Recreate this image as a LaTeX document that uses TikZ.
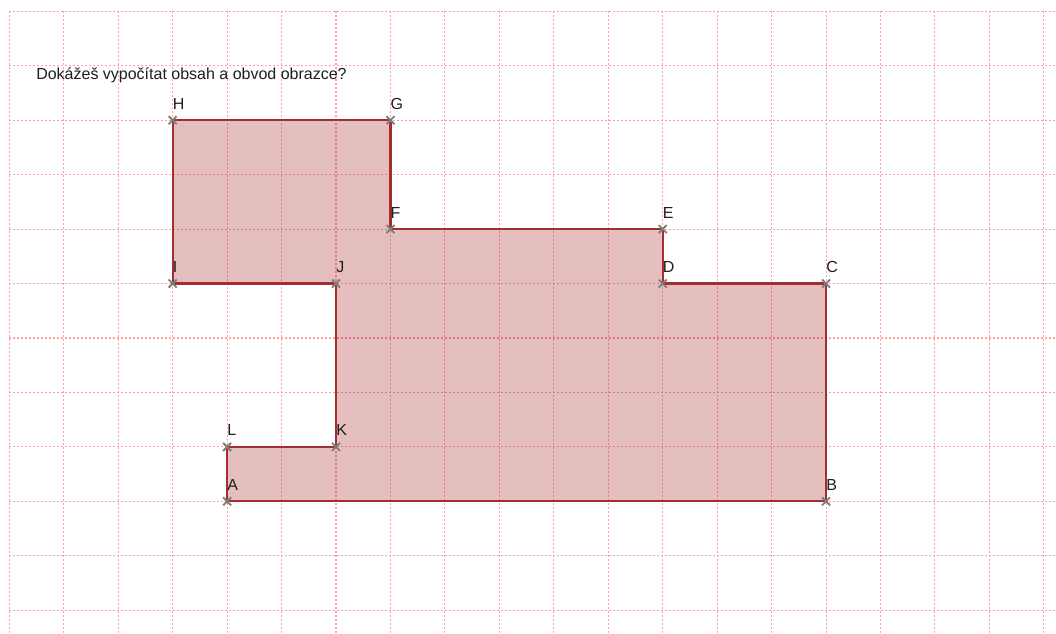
\documentclass[tikz,border=0pt]{standalone}
\usepackage{fontspec}
\setmainfont{Liberation Sans}
\usetikzlibrary{calc}
\definecolor{gridpink}{RGB}{255,160,160}
\definecolor{edgered}{RGB}{165,45,45}
\definecolor{fillred}{RGB}{153,0,0}
\definecolor{crossgray}{RGB}{125,125,125}
\definecolor{txt}{RGB}{30,30,30}
\tikzset{
  gridline/.style={draw=gridpink, line width=0.8pt, dash pattern=on 1.5pt off 1.5pt},
  poly/.style={draw=edgered, line width=1.6pt, fill=fillred, fill opacity=0.25, line join=miter},
  cross/.style={draw=crossgray, line width=1.4pt},
  lbl/.style={anchor=base west, inner sep=0pt, text=txt, font=\fontsize{12pt}{14pt}\selectfont},
}
\begin{document}
\begin{tikzpicture}[x=0.75pt, y=-0.75pt]
\useasboundingbox (0,0) rectangle (1056,634);
\clip (0,0) rectangle (1056,634);
% grid
\foreach \k in {0,...,19} \draw[gridline] ({9.3+54.45*\k},11.3) -- ({9.3+54.45*\k},634);
\foreach \k in {0,...,11} \draw[gridline] (9.3,{11.3+54.45*\k}) -- (1056,{11.3+54.45*\k});
% points (grid column, grid row)
\foreach \n/\c/\r in {A/4/9, B/15/9, C/15/5, D/12/5, E/12/4, F/7/4, G/7/2, H/3/2, I/3/5, J/6/5, K/6/8, L/4/8}
  \coordinate (\n) at ({9.3+54.45*\c},{11.3+54.45*\r});
% polygon
\path[poly] (A) -- (B) -- (C) -- (D) -- (E) -- (F) -- (G) -- (H) -- (I) -- (J) -- (K) -- (L) -- cycle;
% crosses and labels
\foreach \n in {A,B,C,D,E,F,G,H,I,J,K,L} {
  \draw[cross, shift={(\n)}] (-4,-4) -- (4,4) (-4,4) -- (4,-4);
  \node[lbl] (l\n) at ($(\n)+(0,-11)$) {\n};
}
% title
\node[lbl] (title) at (36,80) {Dokážeš vypočítat obsah a obvod obrazce?};
\end{tikzpicture}
\end{document}
